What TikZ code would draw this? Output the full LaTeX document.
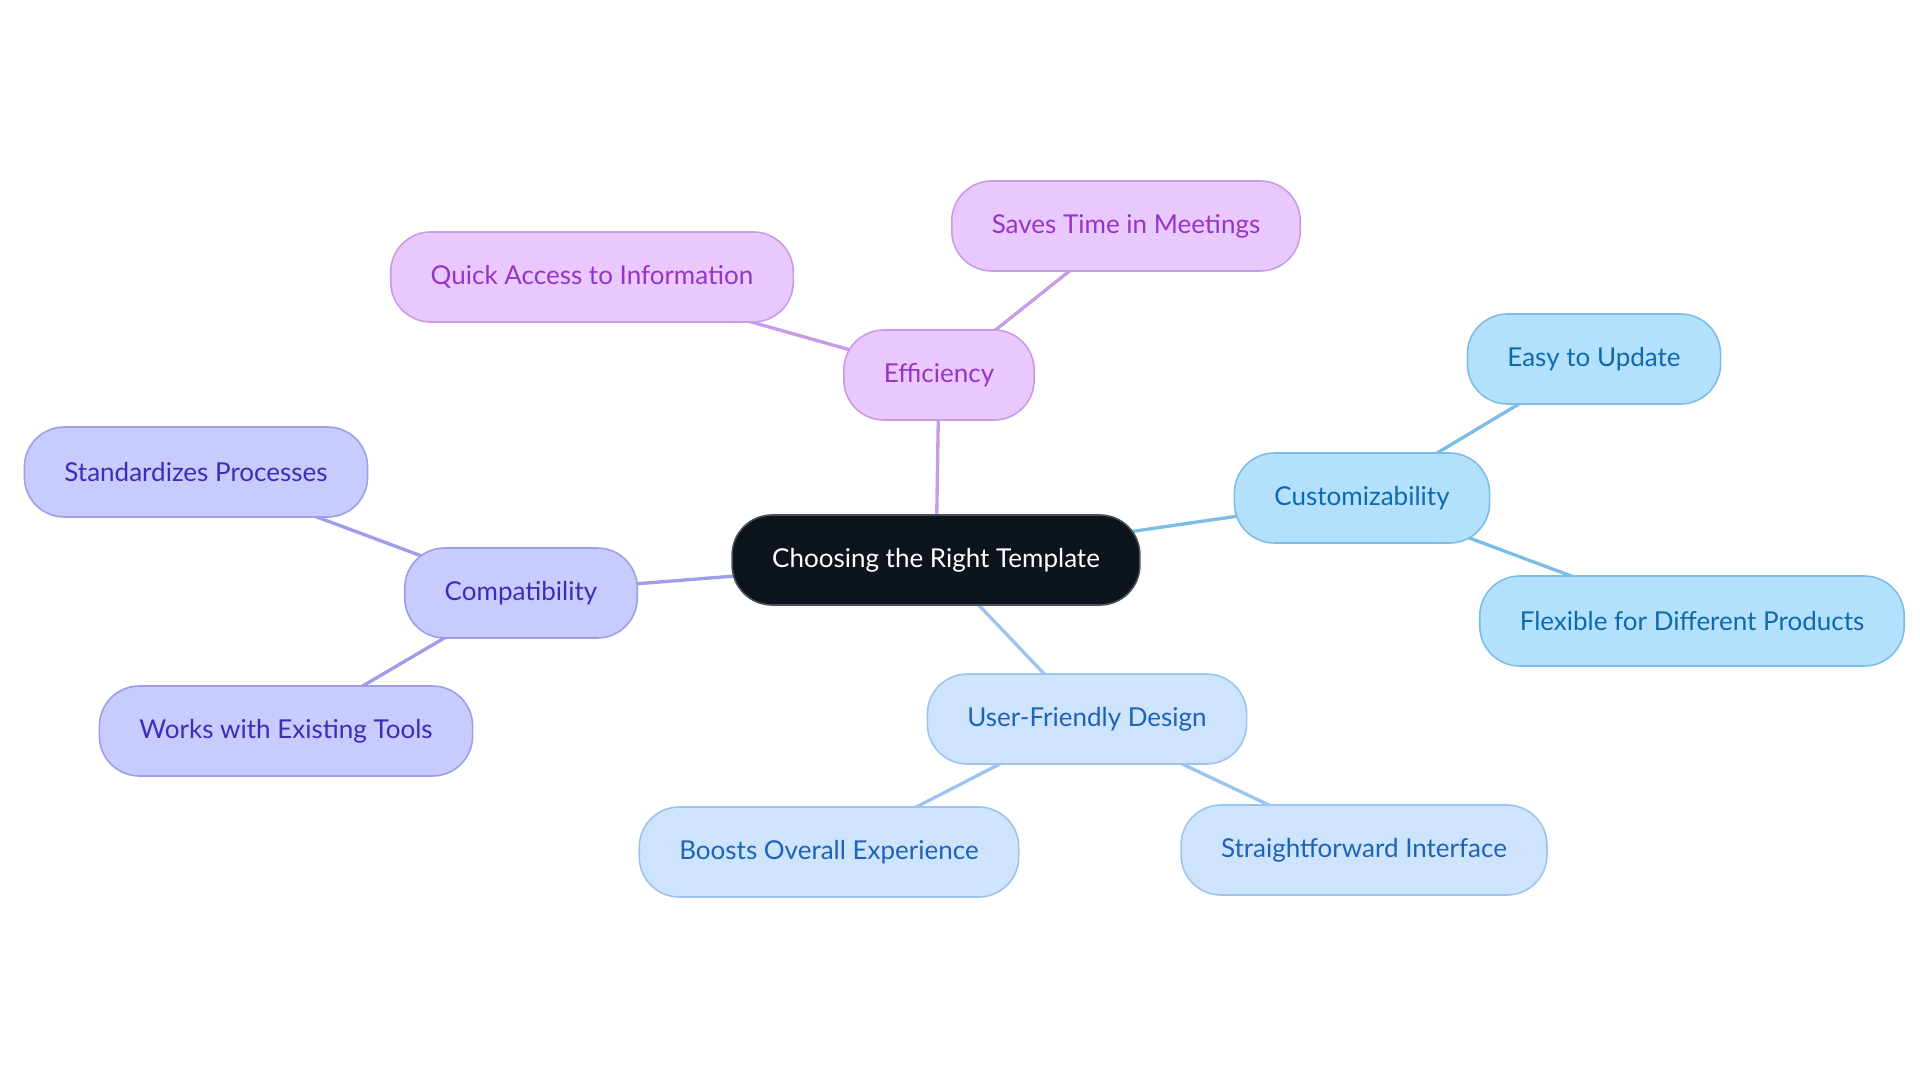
\documentclass[tikz,border=0pt]{standalone}
\usepackage{fontspec}
\setmainfont{Lato}
\usepackage{tikz}
\usetikzlibrary{positioning, backgrounds}

\definecolor{rootfill}{HTML}{0D141B}
\definecolor{rootline}{HTML}{4A5058}
\definecolor{efffill}{HTML}{E9C9FD}
\definecolor{effline}{HTML}{C79BE6}
\definecolor{efftext}{HTML}{9634C8}
\definecolor{compfill}{HTML}{C8CBFD}
\definecolor{compline}{HTML}{9C9EEA}
\definecolor{comptext}{HTML}{3A2EB8}
\definecolor{custfill}{HTML}{B3E0FD}
\definecolor{custline}{HTML}{7CBDE8}
\definecolor{custtext}{HTML}{0E6AAD}
\definecolor{userfill}{HTML}{CEE4FC}
\definecolor{userline}{HTML}{9DC4EE}
\definecolor{usertext}{HTML}{1D63B6}

\tikzset{
  topic/.style={rectangle, rounded corners=0.4cm, minimum height=0.9cm,
    inner xsep=0.4cm, line width=0.45pt, font=\fontsize{7.4}{9}\selectfont},
  rootnode/.style={topic, fill=rootfill, draw=rootline, text=white},
  effnode/.style={topic, fill=efffill, draw=effline, text=efftext},
  compnode/.style={topic, fill=compfill, draw=compline, text=comptext},
  custnode/.style={topic, fill=custfill, draw=custline, text=custtext},
  usernode/.style={topic, fill=userfill, draw=userline, text=usertext},
  link/.style={line width=0.95pt}
}

\begin{document}
\begin{tikzpicture}
\useasboundingbox (0,0) rectangle (19.2,-10.83);
% central topic
\node[rootnode] (root) at (9.36,-5.60) {Choosing the Right Template};
% efficiency branch
\node[effnode] (eff) at (9.39,-3.75) {Efficiency};
\node[effnode] (saves) at (11.26,-2.26) {Saves Time in Meetings};
\node[effnode] (quick) at (5.92,-2.77) {Quick Access to Information};
% compatibility branch
\node[compnode] (comp) at (5.21,-5.93) {Compatibility};
\node[compnode] (std) at (1.96,-4.72) {Standardizes Processes};
\node[compnode] (works) at (2.86,-7.31) {Works with Existing Tools};
% customizability branch
\node[custnode] (cust) at (13.62,-4.98) {Customizability};
\node[custnode] (easy) at (15.94,-3.59) {Easy to Update};
\node[custnode] (flex) at (16.92,-6.21) {Flexible for Different Products};
% user-friendly branch
\node[usernode] (user) at (10.87,-7.19) {User-Friendly Design};
\node[usernode] (boost) at (8.29,-8.52) {Boosts Overall Experience};
\node[usernode] (straight) at (13.64,-8.50) {Straightforward Interface};
% connectors behind the nodes
\begin{scope}[on background layer]
\draw[link, effline] (root.center) -- (eff.center);
\draw[link, effline] (eff.center) -- (saves.center);
\draw[link, effline] (eff.center) -- (quick.center);
\draw[link, compline] (root.center) -- (comp.center);
\draw[link, compline] (comp.center) -- (std.center);
\draw[link, compline] (comp.center) -- (works.center);
\draw[link, custline] (root.center) -- (cust.center);
\draw[link, custline] (cust.center) -- (easy.center);
\draw[link, custline] (cust.center) -- (flex.center);
\draw[link, userline] (root.center) -- (user.center);
\draw[link, userline] (user.center) -- (boost.center);
\draw[link, userline] (user.center) -- (straight.center);
\end{scope}
\end{tikzpicture}
\end{document}
